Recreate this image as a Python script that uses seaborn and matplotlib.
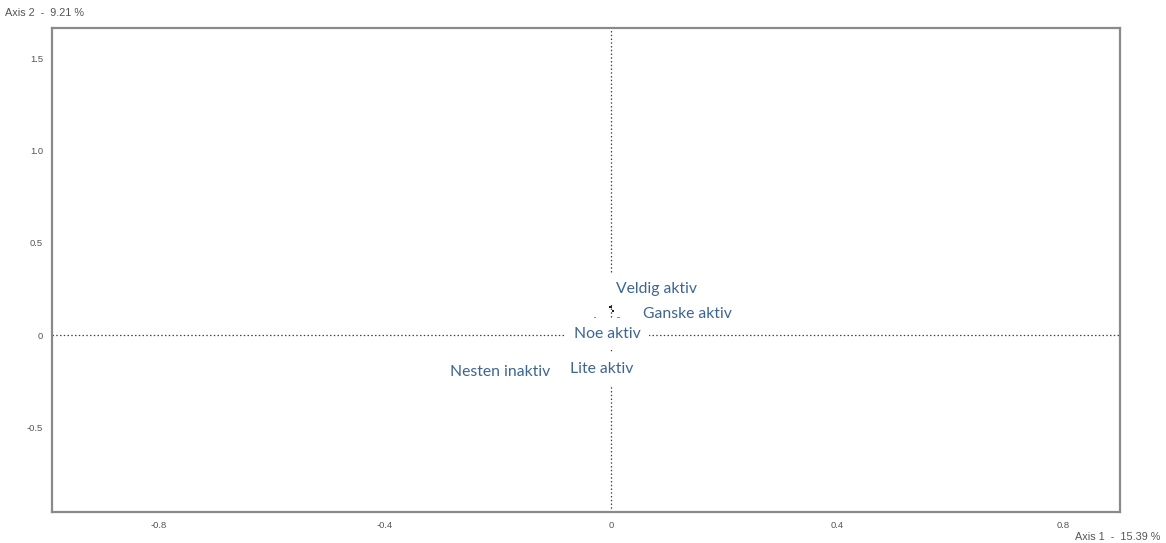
import matplotlib
matplotlib.use("Agg")
import matplotlib.pyplot as plt
import seaborn as sns
import pandas as pd

# Category coordinates on the first two factorial axes
categories = ["Veldig aktiv", "Ganske aktiv", "Noe aktiv", "Lite aktiv", "Nesten inaktiv"]
axis1 = [0.080, 0.135, -0.007, -0.017, -0.196]
axis2 = [0.249, 0.114, 0.005, -0.184, -0.200]

# Small supplementary points near the origin
supp_x = [0.000, 0.004, -0.028, 0.014]
supp_y = [0.152, 0.130, 0.092, 0.092]
supp_kind = ["a", "a", "b", "b"]

xticks = [-0.8, -0.4, 0, 0.4, 0.8]
xtick_labels = ["-0.8", "-0.4", "0", "0.4", "0.8"]
yticks = [-0.5, 0, 0.5, 1.0, 1.5]
ytick_labels = ["-0.5", "0", "0.5", "1.0", "1.5"]

axis1_title = "Axis 1  -  15.39 %"
axis2_title = "Axis 2  -  9.21 %"

sns.set_style("white")
plt.rcParams["font.family"] = ["Liberation Sans", "DejaVu Sans"]

fig = plt.figure(figsize=(11.66, 5.43), dpi=100)
ax = fig.add_axes([0.0446, 0.0571, 0.9159, 0.8913])

ax.set_xlim(-0.989, 0.901)
ax.set_ylim(-0.959, 1.664)

# Dotted reference lines through the origin
ax.axhline(0, color="#444444", lw=0.9, ls=(0, (1.2, 1.8)), zorder=1)
ax.axvline(0, color="#444444", lw=0.9, ls=(0, (1.2, 1.8)), zorder=1)

supp = pd.DataFrame({"x": supp_x, "y": supp_y, "kind": supp_kind})
sns.scatterplot(data=supp, x="x", y="y", hue="kind",
                palette={"a": "#222222", "b": "#8080ff"},
                s=4, marker="s", linewidth=0, legend=False, ax=ax, zorder=2)

for name, x, y in zip(categories, axis1, axis2):
    ax.text(x, y, name, ha="center", va="center", fontsize=11.3,
            family=["Lato", "DejaVu Sans"], color="#3d6591", zorder=3,
            bbox=dict(boxstyle="square,pad=0.55", fc="white", ec="none"))

ax.set_xticks(xticks)
ax.set_xticklabels(xtick_labels)
ax.set_yticks(yticks)
ax.set_yticklabels(ytick_labels)
ax.tick_params(axis="both", direction="inout", length=7, width=1.0,
               color="#555555", labelsize=6.8, labelcolor="#555555", pad=3)
ax.set_xlabel("")
ax.set_ylabel("")

for side in ["left", "right", "top", "bottom"]:
    ax.spines[side].set_color("#8a8a8a")
    ax.spines[side].set_linewidth(1.6)
    ax.spines[side].set_visible(True)

fig.text(5 / 1166, 1 - 13 / 543, axis2_title, ha="left", va="center",
         fontsize=7.8, color="#555555")
fig.text(1160 / 1166, 1 - 537 / 543, axis1_title, ha="right", va="center",
         fontsize=7.8, color="#555555")

fig.savefig("out.png", dpi=100, facecolor="white")
